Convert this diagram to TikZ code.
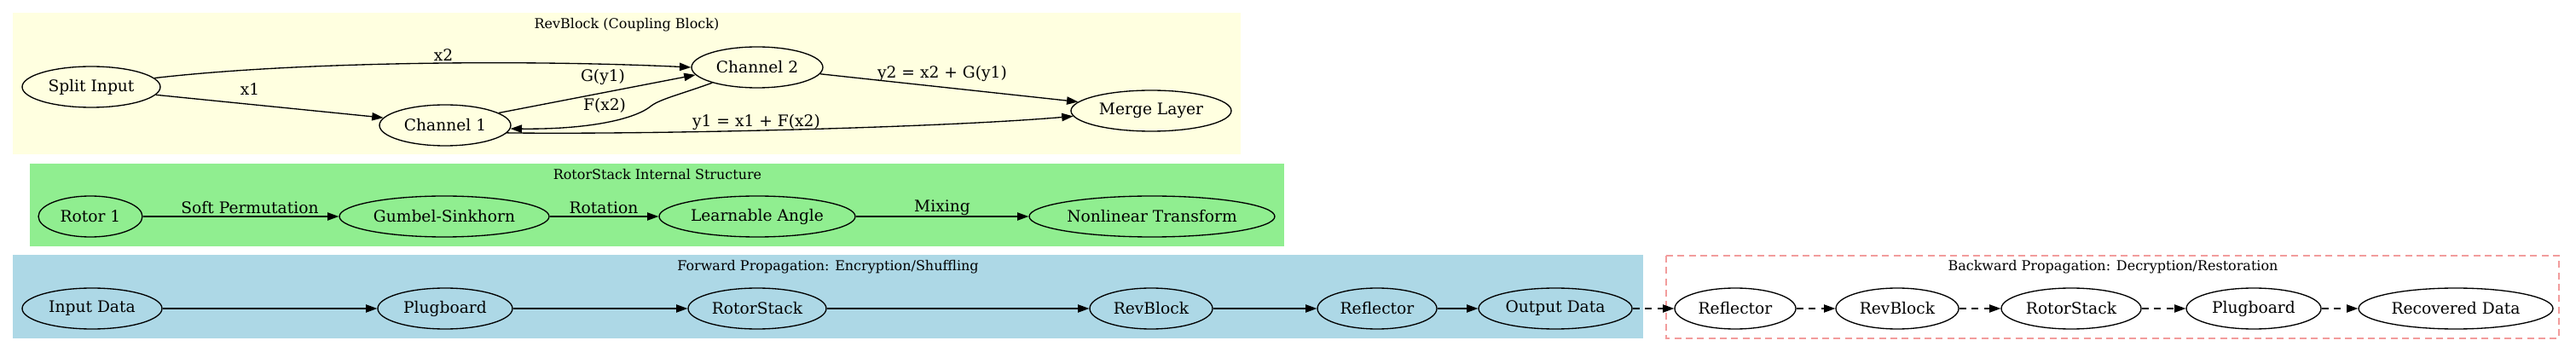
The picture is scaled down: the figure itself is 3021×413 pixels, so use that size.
\documentclass[tikz,border=0pt]{standalone}
\usepackage{fontspec}
\setmainfont{DejaVu Serif}
\usetikzlibrary{shapes.geometric,arrows.meta}
\definecolor{cyellow}{HTML}{FFFFE0}
\definecolor{cgreen}{HTML}{90EE90}
\definecolor{cblue}{HTML}{ADD8E6}
\definecolor{cpink}{HTML}{F29C9C}
\begin{document}
\begin{tikzpicture}[x=0.75pt,y=-0.75pt,
  ell/.style={ellipse,draw=black,line width=1pt,inner sep=0pt,minimum height=36pt,font=\fontsize{14}{16}\selectfont},
  hw/.style={minimum width=#1*1.5pt},
  lbl/.style={inner sep=0pt,font=\fontsize{14}{16}\selectfont},
  ttl/.style={inner sep=0pt,font=\fontsize{12}{14}\selectfont},
  arr/.style={draw=black,line width=1pt,-{Triangle[length=10pt,width=7pt]}},
  darr/.style={arr,dash pattern=on 6pt off 5pt},
]
\useasboundingbox (0,0) rectangle (3021,413);
% clusters
\fill[cyellow] (15,15) rectangle (1455,181);
\fill[cgreen] (35,192) rectangle (1506,289);
\fill[cblue] (15,299) rectangle (1927,397);
\draw[cpink,line width=1pt,dash pattern=on 6pt off 4pt] (1954,300) rectangle (3001,397);
\node[ttl] (t1) at (735,29) {RevBlock (Coupling Block)};
\node[ttl] (t2) at (771,205) {RotorStack Internal Structure};
\node[ttl] (t3) at (971,313) {Forward Propagation: Encryption/Shuffling};
\node[ttl] (t4) at (2478,313) {Backward Propagation: Decryption/Restoration};
% RevBlock nodes
\node[ell,hw=81] (split) at (107,102) {Split Input};
\node[ell,hw=77] (ch1) at (522,147) {Channel 1};
\node[ell,hw=77] (ch2) at (888,79) {Channel 2};
\node[ell,hw=94] (merge) at (1350,130) {Merge Layer};
% RotorStack nodes
\node[ell,hw=61] (rot1) at (106,254) {Rotor 1};
\node[ell,hw=123] (gum) at (521,254) {Gumbel-Sinkhorn};
\node[ell,hw=115] (ang) at (888,254) {Learnable Angle};
\node[ell,hw=144] (nonl) at (1351,254) {Nonlinear Transform};
% Forward nodes
\node[ell,hw=82] (inp) at (108,362) {Input Data};
\node[ell,hw=79] (plug) at (522,362) {Plugboard};
\node[ell,hw=81] (rs) at (888,362) {RotorStack};
\node[ell,hw=72] (rev) at (1350,362) {RevBlock};
\node[ell,hw=70] (refl) at (1615,362) {Reflector};
\node[ell,hw=90] (out) at (1824,362) {Output Data};
% Backward nodes
\node[ell,hw=71] (brefl) at (2035,362) {Reflector};
\node[ell,hw=72] (brev) at (2225,362) {RevBlock};
\node[ell,hw=82] (brs) at (2429,362) {RotorStack};
\node[ell,hw=79] (bplug) at (2643,362) {Plugboard};
\node[ell,hw=114] (rec) at (2880,362) {Recovered Data};
% RevBlock edges
\draw[arr] (split.8) .. controls (350,72) and (620,70) .. (ch2.180);
\draw[arr] (split.-7) -- (ch1.173);
\draw[arr] (ch1.13) -- (ch2.187);
\draw[arr] (ch2.199) .. controls (800,110) and (775,116) .. (764,124)
   .. controls (745,140) and (690,152) .. (ch1.-3);
\draw[arr] (ch1.-7) .. controls (760,158) and (1100,150) .. (merge.184);
\draw[arr] (ch2.-6) -- (merge.173);
\node[lbl] (lx2) at (520,65) {x2};
\node[lbl] (lx1) at (293,105) {x1};
\node[lbl] (lg) at (707,90) {G(y1)};
\node[lbl] (lf) at (709,124) {F(x2)};
\node[lbl] (ly1) at (887,143) {y1 = x1 + F(x2)};
\node[lbl] (ly2) at (1105,86) {y2 = x2 + G(y1)};
% RotorStack edges
\draw[arr] (rot1) -- (gum);
\draw[arr] (gum) -- (ang);
\draw[arr] (ang) -- (nonl);
\node[lbl] (lsp) at (293,244) {Soft Permutation};
\node[lbl] (lrot) at (708,244) {Rotation};
\node[lbl] (lmix) at (1105,244) {Mixing};
% Forward edges
\draw[arr] (inp) -- (plug);
\draw[arr] (plug) -- (rs);
\draw[arr] (rs) -- (rev);
\draw[arr] (rev) -- (refl);
\draw[arr] (refl) -- (out);
% Backward edges
\draw[darr] (out) -- (brefl);
\draw[darr] (brefl) -- (brev);
\draw[darr] (brev) -- (brs);
\draw[darr] (brs) -- (bplug);
\draw[darr] (bplug) -- (rec);
\end{tikzpicture}
\end{document}
